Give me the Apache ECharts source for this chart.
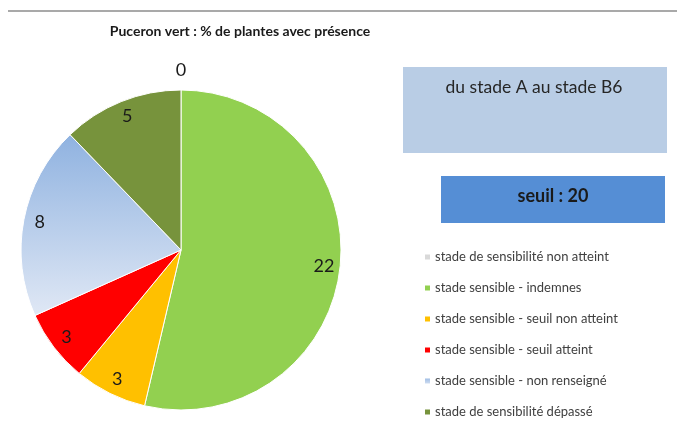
<!DOCTYPE html>
<html><head><meta charset="utf-8">
<script src="https://cdn.jsdelivr.net/npm/echarts@6/dist/echarts.min.js"></script>
<style>html,body{margin:0;padding:0;background:#fff}#c{width:677px;height:427px}</style>
</head><body><div id="c"></div>
<script>
const categories = [
  'stade de sensibilité non atteint',
  'stade sensible - indemnes',
  'stade sensible - seuil non atteint',
  'stade sensible - seuil atteint',
  'stade sensible - non renseigné',
  'stade de sensibilité dépassé'
];
const values = [0, 22, 3, 3, 8, 5];
const titleText = 'Puceron vert : % de plantes avec présence';
const stageText = 'du stade A au stade B6';
const thresholdText = 'seuil : 20';

const colors = [
  '#d9d9d9',
  '#92d050',
  '#ffc000',
  '#ff0000',
  {type:'linear',x:0,y:0,x2:0,y2:1,colorStops:[{offset:0,color:'#8fb2e0'},{offset:1,color:'#e0e8f5'}]},
  '#77933c'
];
const FONT = 'Lato, "Open Sans", sans-serif';
const center = [181, 250];

const mainData = categories.map((n,i)=>({name:n,value:values[i],itemStyle:{color:colors[i]}}));
const labelData = categories.map((n,i)=>({name:n,value:values[i],label:{show:values[i]!==0}}));
const zeroData = categories.map((n,i)=>({name:n,value:values[i],label:{show:values[i]===0}}));

const chart = echarts.init(document.getElementById('c'), null, {renderer:'canvas'});
const labelStyle = {position:'inside', fontSize:18, color:'#1a1a1a', fontFamily:FONT, formatter:'{c}'};
chart.setOption({
  animation:false,
  legend:{
    orient:'vertical', left:423, top:249, height:190, padding:0,
    itemWidth:7, itemHeight:7, icon:'rect', itemGap:15,
    textStyle:{fontSize:13, color:'#404040', fontFamily:FONT, lineHeight:16, padding:[0,0,0,-1]},
    data:categories
  },
  graphic:[
    {type:'line', shape:{x1:8,y1:11,x2:677,y2:11}, style:{stroke:'#8c8c8c', lineWidth:1.5}},
    {type:'text', x:240, y:31, style:{text:titleText, font:'bold 14px '+FONT, fill:'#1a1a1a', textAlign:'center', textVerticalAlign:'middle'}},
    {type:'rect', shape:{x:403,y:67,width:264,height:86}, style:{fill:'#b9cde5'}},
    {type:'text', x:534, y:87, style:{text:stageText, font:'17.5px '+FONT, fill:'#262626', textAlign:'center', textVerticalAlign:'middle'}},
    {type:'rect', shape:{x:441,y:176,width:224,height:47}, style:{fill:'#558ed5'}},
    {type:'text', x:553, y:196, style:{text:thresholdText, font:'bold 18px '+FONT, fill:'#1a1a1a', textAlign:'center', textVerticalAlign:'middle'}}
  ],
  series:[
    {type:'pie', center:center, radius:[0,160], startAngle:90, clockwise:true,
     silent:true, label:{show:false}, labelLine:{show:false},
     itemStyle:{borderColor:'#ffffff', borderWidth:1}, data:mainData},
    {type:'pie', center:center, radius:[122,160], startAngle:90, clockwise:true,
     silent:true, itemStyle:{color:'transparent'}, label:labelStyle, labelLine:{show:false},
     emphasis:{disabled:true}, data:labelData},
    {type:'pie', center:center, radius:[160,194], startAngle:90, clockwise:true,
     silent:true, itemStyle:{color:'transparent'}, label:labelStyle, labelLine:{show:false},
     emphasis:{disabled:true}, data:zeroData}
  ]
});
</script></body></html>
